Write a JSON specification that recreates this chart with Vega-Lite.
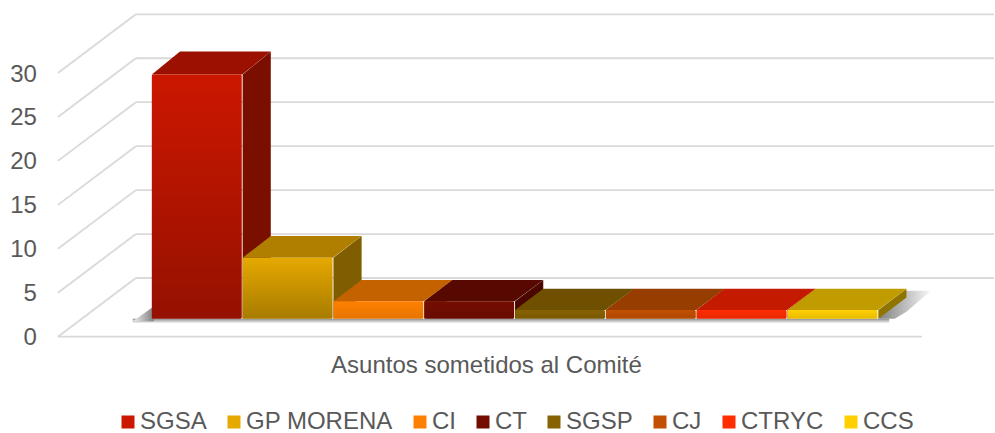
{
"$schema":"https://vega.github.io/schema/vega-lite/v6.json",
"width":995,"height":433,"autosize":{"type":"fit","contains":"padding"},"padding":0,"background":"white",
"config":{"view":{"stroke":null},"font":"Liberation Sans"},
"datasets":{
"bars":[{"name":"SGSA","value":28,"order":0},{"name":"GP MORENA","value":7,"order":1},{"name":"CI","value":2,"order":2},{"name":"CT","value":2,"order":3},{"name":"SGSP","value":1,"order":4},{"name":"CJ","value":1,"order":5},{"name":"CTRYC","value":1,"order":6},{"name":"CCS","value":1,"order":7}],
"ticks":[{"t":0},{"t":5},{"t":10},{"t":15},{"t":20},{"t":25},{"t":30}]
},
"layer":[
{"data":{"name":"ticks"},"transform":[{"calculate":"-2.064+1.008*datum.t","as":"fy"},{"calculate":"4.667+1.008*datum.t","as":"by"}],
 "mark":{"type":"rule","color":"#d9d9d9","strokeWidth":1.8},
 "encoding":{"x":{"datum":-1.034,"type":"quantitative","scale":{"domain":[-1.672,9.274]},"axis":null},"x2":{"datum":-0.176},"y":{"field":"fy","type":"quantitative","scale":{"domain":[-13.107,36.548]},"axis":null},"y2":{"field":"by"}}},
{"data":{"name":"ticks"},"transform":[{"calculate":"4.667+1.008*datum.t","as":"by"}],
 "mark":{"type":"rule","color":"#d9d9d9","strokeWidth":1.8},
 "encoding":{"x":{"datum":-0.176,"type":"quantitative","scale":{"domain":[-1.672,9.274]},"axis":null},"x2":{"datum":9.274},"y":{"field":"by","type":"quantitative","scale":{"domain":[-13.107,36.548]},"axis":null}}},
{"data":{"values":[{"t":0}]},"transform":[{"calculate":"-2.064+1.008*datum.t","as":"fy"}],
 "mark":{"type":"rule","color":"#d9d9d9","strokeWidth":1.8},
 "encoding":{"x":{"datum":-1.034,"type":"quantitative","scale":{"domain":[-1.672,9.274]},"axis":null},"x2":{"datum":8.482},"y":{"field":"fy","type":"quantitative","scale":{"domain":[-13.107,36.548]},"axis":null}}},
{"data":{"values":[{"a":-0.21,"b":8.12,"lo":-0.5,"hi":0}]},
 "mark":{"type":"rect","fill":{"gradient":"linear","x1":0,"y1":0,"x2":0,"y2":1,"stops":[{"offset":0,"color":"#8c8c8c"},{"offset":1,"color":"#f4f4f4"}]}},
 "encoding":{"x":{"field":"a","type":"quantitative","scale":{"domain":[-1.672,9.274]},"axis":null},"x2":{"field":"b"},"y":{"field":"hi","type":"quantitative","scale":{"domain":[-13.107,36.548]},"axis":null},"y2":{"field":"lo"}}},
{"data":{"values":[{"x":-0.21,"u":-0.3,"l":-0.3},{"x":0.02,"u":1.4,"l":-0.3}]},
 "mark":{"type":"area","fill":{"gradient":"linear","x1":0,"y1":0,"x2":1,"y2":0,"stops":[{"offset":0,"color":"#f0f0f0"},{"offset":1,"color":"#808080"}]}},
 "encoding":{"x":{"field":"x","type":"quantitative","scale":{"domain":[-1.672,9.274]},"axis":null},"y":{"field":"u","type":"quantitative","scale":{"domain":[-13.107,36.548]},"axis":null},"y2":{"field":"l"}}},
{"data":{"values":[{"x":8.0,"u":0,"l":0},{"x":8.18,"u":1.95,"l":0},{"x":8.31,"u":3.2,"l":0.8},{"x":8.58,"u":3.2,"l":3.2}]},
 "mark":{"type":"area","fill":{"gradient":"linear","x1":0,"y1":0,"x2":1,"y2":0,"stops":[{"offset":0,"color":"#808080"},{"offset":1,"color":"#f8f8f8"}]}},
 "encoding":{"x":{"field":"x","type":"quantitative","scale":{"domain":[-1.672,9.274]},"axis":null},"y":{"field":"u","type":"quantitative","scale":{"domain":[-13.107,36.548]},"axis":null},"y2":{"field":"l"}}},
{"layer":[
 {"data":{"name":"bars"},"transform":[{"calculate":"2.42+datum.value*0.008","as":"depth"},{"calculate":"[0,1]","as":"c"},{"flatten":["c"]},{"calculate":"datum.order+1+datum.c*0.31","as":"px"},{"calculate":"datum.value+datum.c*datum.depth","as":"up"},{"calculate":"datum.c*datum.depth","as":"lo"}],
  "mark":{"type":"area"},
  "encoding":{"x":{"field":"px","type":"quantitative","scale":{"domain":[-1.672,9.274]},"axis":null},"y":{"field":"up","type":"quantitative","scale":{"domain":[-13.107,36.548]},"axis":null},"y2":{"field":"lo"},"detail":{"field":"name"},
  "fill":{"field":"name","type":"nominal","legend":null,"scale":{"domain":["SGSA","GP MORENA","CI","CT","SGSP","CJ","CTRYC","CCS"],"range":["#7a0f00","#7f5d00","#a85400","#4a0700","#5a4200","#7d3300","#a81600","#8f7500"]}}}},
 {"data":{"name":"bars"},"transform":[{"calculate":"2.42+datum.value*0.008","as":"depth"},{"calculate":"[0,0.31,0.995,1.31]","as":"c"},{"flatten":["c"]},{"calculate":"datum.order+datum.c","as":"px"},{"calculate":"datum.c>0?datum.value+datum.depth:datum.value","as":"up"},{"calculate":"datum.c>1?datum.value+datum.depth:datum.value","as":"lo"}],
  "mark":{"type":"area"},
  "encoding":{"x":{"field":"px","type":"quantitative","scale":{"domain":[-1.672,9.274]},"axis":null},"y":{"field":"up","type":"quantitative","scale":{"domain":[-13.107,36.548]},"axis":null},"y2":{"field":"lo"},"detail":{"field":"name"},
  "fill":{"field":"name","type":"nominal","legend":null,"scale":{"domain":["SGSA","GP MORENA","CI","CT","SGSP","CJ","CTRYC","CCS"],"range":["#9c1000","#b07f00","#c46200","#570800","#6e5000","#973d00","#c41a00","#c09c00"]}}}},
 {"data":{"name":"bars"},"transform":[{"calculate":"datum.order+0.99","as":"end"},{"calculate":"0","as":"zero"}],
  "mark":{"type":"rect","cornerRadius":1.5},
  "encoding":{"x":{"field":"order","type":"quantitative","scale":{"domain":[-1.672,9.274]},"axis":null},"x2":{"field":"end"},"y":{"field":"value","type":"quantitative","scale":{"domain":[-13.107,36.548]},"axis":null},"y2":{"field":"zero"},
  "fill":{"field":"name","type":"nominal",
   "scale":{"domain":["SGSA","GP MORENA","CI","CT","SGSP","CJ","CTRYC","CCS"],"range":["#cc1700","#e6a900","#ff8000","#730d00","#876200","#c25000","#ff2c00","#ffcf00"]},
   "legend":{"title":null,"orient":"none","legendX":116,"legendY":410,"direction":"horizontal","columns":8,"symbolType":"square","symbolSize":169,"symbolStrokeWidth":0,"labelFontSize":24,"labelColor":"#595959","labelFont":"Liberation Sans","labelLimit":300,"columnPadding":15,"labelOffset":0}}}},
 {"data":{"name":"bars"},"transform":[{"calculate":"datum.order+0.99","as":"end"},{"calculate":"0","as":"zero"},{"calculate":"datum.value>=7?1:0.35","as":"shade"}],
  "mark":{"type":"rect","cornerRadius":1.5,"fill":{"gradient":"linear","x1":0,"y1":0,"x2":0,"y2":1,"stops":[{"offset":0,"color":"rgba(0,0,0,0)"},{"offset":1,"color":"rgba(0,0,0,0.27)"}]}},
  "encoding":{"x":{"field":"order","type":"quantitative","scale":{"domain":[-1.672,9.274]},"axis":null},"x2":{"field":"end"},"y":{"field":"value","type":"quantitative","scale":{"domain":[-13.107,36.548]},"axis":null},"y2":{"field":"zero"},"opacity":{"field":"shade","type":"quantitative","scale":null}}}
 ],"resolve":{"scale":{"fill":"independent"}}},
{"data":{"name":"ticks"},"transform":[{"calculate":"-2.064+1.008*datum.t","as":"fy"}],
 "mark":{"type":"text","align":"right","baseline":"middle","dy":1.5,"fontSize":24,"color":"#595959","font":"Liberation Sans"},
 "encoding":{"x":{"datum":-1.265,"type":"quantitative","scale":{"domain":[-1.672,9.274]},"axis":null},"y":{"field":"fy","type":"quantitative","scale":{"domain":[-13.107,36.548]},"axis":null},"text":{"field":"t","type":"quantitative"}}},
{"data":{"values":[{"label":"Asuntos sometidos al Comité","cx":3.685,"cy":-5.35}]},
 "mark":{"type":"text","align":"center","baseline":"middle","dy":1,"fontSize":24,"color":"#595959","font":"Liberation Sans"},
 "encoding":{"x":{"field":"cx","type":"quantitative","scale":{"domain":[-1.672,9.274]},"axis":null},"y":{"field":"cy","type":"quantitative","scale":{"domain":[-13.107,36.548]},"axis":null},"text":{"field":"label","type":"nominal"}}}
],
"resolve":{"scale":{"fill":"independent"}}
}
